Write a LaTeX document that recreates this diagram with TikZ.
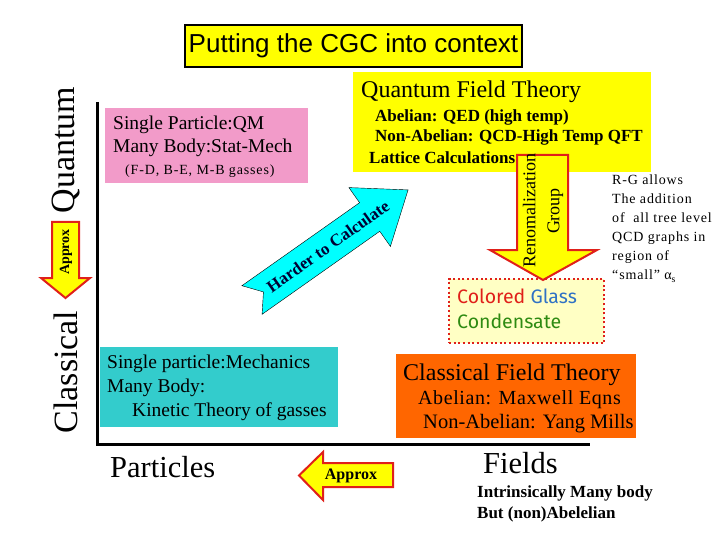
\documentclass[tikz,border=0pt]{standalone}
\usepackage{fontspec}
\setmainfont{Liberation Serif}
\newfontfamily\headfont{Liberation Sans}
\newfontfamily\cgcfont{Fira Sans}
\newfontfamily\widefont[LetterSpace=6]{Liberation Serif}
\newfontfamily\semiwide[LetterSpace=3]{Liberation Serif}
\usepackage{tikz}
\usetikzlibrary{positioning}
\definecolor{cgyellow}{HTML}{FFFF00}
\definecolor{cgpale}{HTML}{FFFFC4}
\definecolor{cgpink}{HTML}{F29BC9}
\definecolor{cgteal}{HTML}{33CCCC}
\definecolor{cgorange}{HTML}{FF6600}
\definecolor{cgcyan}{HTML}{00FFFF}
\definecolor{cgred}{HTML}{E0201A}
\definecolor{cgblue}{HTML}{2F72C4}
\definecolor{cggreen}{HTML}{2E8B12}
\newcommand{\pts}[2]{\fontsize{#1}{#2}\selectfont}
\tikzset{
  titlebox/.style={draw,line width=2.5pt,fill=cgyellow,minimum width=337pt,
              minimum height=42pt,inner sep=0pt,font=\headfont\pts{26}{30}},
  panel/.style={inner sep=0pt,anchor=north west},
  txt/.style={anchor=west,inner sep=0pt,font=\pts{19.5}{23}},
  btxt/.style={anchor=west,inner sep=0pt,font=\bfseries\pts{17}{20}},
  bigtxt/.style={anchor=west,inner sep=0pt,font=\pts{24}{28}},
  huge/.style={anchor=west,inner sep=0pt,font=\pts{30.5}{34}},
  sidelbl/.style={rotate=90,inner sep=0pt,font=\pts{34}{38}},
  axis/.style={line width=3pt},
  blockarr/.style={draw=cgred,line width=2pt,fill=cgyellow,line join=miter},
  cyanarr/.style={draw=black,thin,fill=cgcyan,line join=miter},
  cgcbox/.style={draw=cgred,line width=2.2pt,dash pattern=on 2pt off 2.6pt,
              fill=cgpale,inner sep=0pt,anchor=north west},
  cgctxt/.style={anchor=west,inner sep=0pt,font=\cgcfont\pts{19.5}{22}},
}

\begin{document}
\begin{tikzpicture}[x=1pt,y=-1pt]
  \useasboundingbox (0,0) rectangle (720,540);

  % ================= title =================
  \node[titlebox] (title) at (353.5,46) {Putting the CGC into context};

  % ================= quantum row =================
  \node[panel,fill=cgyellow,minimum width=298pt,minimum height=100pt] (qft) at (353,72) {};
  \node[bigtxt] (qftt) at (361,92) {Quantum Field Theory};
  \node[btxt] (qed)  at (375,117) {Abelian: QED (high temp)};
  \node[btxt] (qcd)  at (375,137) {Non-Abelian: QCD-High Temp QFT};
  \node[btxt] (latt) at (369,158) {Lattice Calculations};

  \node[panel,fill=cgpink,minimum width=203pt,minimum height=75pt] (qm) at (105,108) {};
  \node[txt] (qm1) at (113,125) {Single Particle:QM};
  \node[txt] (qm2) at (113,148) {Many Body:Stat-Mech};
  \node[txt,font=\widefont\pts{14}{16}] (qm3) at (125,171) {(F-D, B-E, M-B gasses)};

  % ================= classical row =================
  \node[panel,fill=cgteal,minimum width=238pt,minimum height=80pt] (cm) at (100,347) {};
  \node[txt] (cm1) at (107,364) {Single particle:Mechanics};
  \node[txt] (cm2) at (107,388) {Many Body:};
  \node[txt] (cm3) at (132,412) {Kinetic Theory of gasses};

  \node[panel,fill=cgorange,minimum width=240pt,minimum height=84pt] (cft) at (396,354) {};
  \node[bigtxt] (cftt) at (403,375) {Classical Field Theory};
  \node[txt,font=\semiwide\pts{20}{23}] (maxw) at (418,400) {Abelian: Maxwell Eqns};
  \node[txt,font=\pts{20.5}{23}] (ym)   at (423,424) {Non-Abelian: Yang Mills};

  % ================= CGC + RG arrow =================
  \node[cgcbox,minimum width=155pt,minimum height=64pt] (cgc) at (448,278) {};
  \node[cgctxt] (cgc1) at (457,296)
    {\textcolor{cgred}{Colored} \textcolor{cgblue}{Glass}};
  \node[cgctxt,text=cggreen] (cgc2) at (457,321) {Condensate};
  \draw[blockarr] (517,155) -- (568,155) -- (568,250) -- (597,250) -- (543,280)
    -- (490,250) -- (517,250) -- cycle;
  \node[rotate=90,align=center,inner sep=0pt,font=\pts{18}{24}] (rg) at (543,211)
    {Renomalization\\Group};
  \node[anchor=north west,align=left,inner sep=0pt,font=\widefont\pts{14}{19}] (rgnote) at (612,175)
    {R-G allows\\The addition\\of \ all tree level\\QCD graphs in\\region of\\“small” α\textsubscript{s}};

  % ================= axes =================
  \coordinate (ytop) at (97,102);
  \coordinate (orig) at (97,444);
  \coordinate (xend) at (590,444);
  \draw[axis] (ytop) -- (orig) -- (xend);
  \node[sidelbl] (quant) at (66,150) {Quantum};
  \node[sidelbl] (class) at (66,372) {Classical};
  \node[huge] (part) at (110,467) {Particles};
  \node[huge] (fld) at (483,463) {Fields};
  \node[btxt] (many) at (477,493) {Intrinsically Many body};
  \node[btxt] (abel) at (477,514) {But (non)Abelelian};

  % approx arrows
  \draw[blockarr] (52,222) -- (79,222) -- (79,278) -- (90,278) -- (65.5,298)
    -- (41,278) -- (52,278) -- cycle;
  \node[rotate=90,inner sep=0pt,font=\bfseries\pts{14}{16}] (apx1) at (66,252) {Approx};
  \draw[blockarr] (393,463) -- (393,487) -- (323,487) -- (323,500) -- (299,475.5)
    -- (323,452) -- (323,463) -- cycle;
  \node[inner sep=0pt,font=\bfseries\pts{16}{18}] (apx2) at (351,476) {Approx};

  % harder to calculate
  \begin{scope}[shift={(252,300)},rotate=35.2]
    \draw[cyanarr] (0,-17.5) -- (144,-17.5) -- (144,-36) -- (191,0) -- (144,36)
      -- (144,17.5) -- (0,17.5) -- (14,0) -- cycle;
    \node[rotate=35.2,inner sep=0pt,font=\bfseries\pts{17}{19},text=black!80!blue] (hard) at (93,0)
      {Harder to Calculate};
  \end{scope}
\end{tikzpicture}
\end{document}
